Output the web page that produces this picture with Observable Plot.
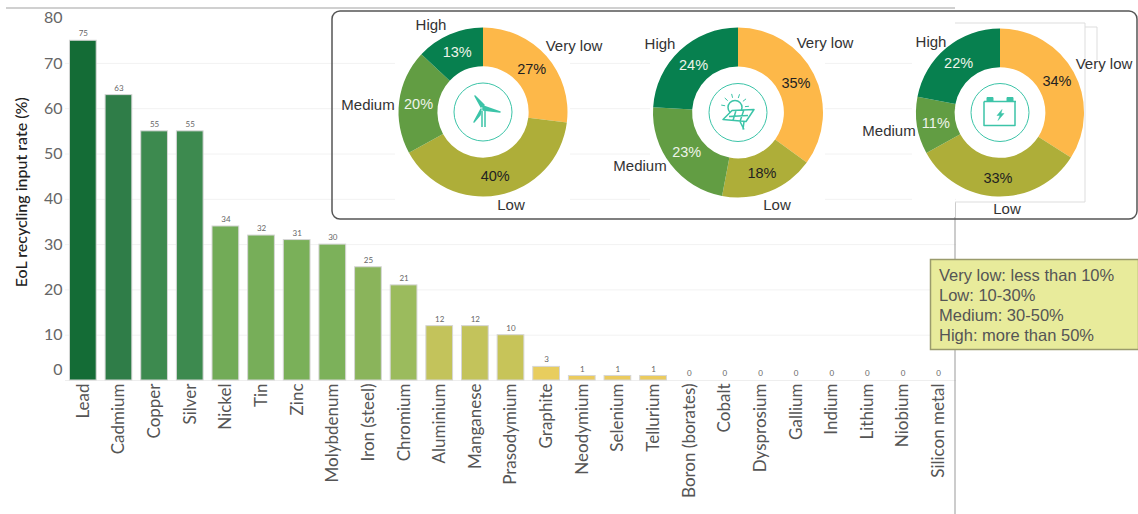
<!DOCTYPE html>
<html><head><meta charset="utf-8">
<style>html,body{margin:0;padding:0;background:#fff}svg{display:block}</style>
<script src="https://cdn.jsdelivr.net/npm/d3@7"></script>
<script src="https://cdn.jsdelivr.net/npm/@observablehq/plot@0.6"></script>
</head><body>
<script>
const materials = ["Lead","Cadmium","Copper","Silver","Nickel","Tin","Zinc","Molybdenum","Iron (steel)","Chromium","Aluminium","Manganese","Prasodymium","Graphite","Neodymium","Selenium","Tellurium","Boron (borates)","Cobalt","Dysprosium","Gallium","Indium","Lithium","Niobium","Silicon metal"];
const rates = [75,63,55,55,34,32,31,30,25,21,12,12,10,3,1,1,1,0,0,0,0,0,0,0,0];
const colorStops = [0,1,3,10,12,21,25,30,34,55,63,75];
const colorRange = ["#ebcb5e","#ebcb5e","#e8cd5e","#c7c459","#c3c35b","#9bbb5d","#8ab45b","#7cb15a","#72ab57","#3d8a4f","#2f7d48","#146c36"];
const yTicks = [10,20,30,40,50,60,70,80];
const gridTicks = [10,20,30,40,50,60,70];
const levels = ["Very low","Low","Medium","High"];
const levelColors = ["#fdb849","#aeae39","#629d43","#07804f"];
const wind = [27,40,20,13];
const solar = [35,18,23,24];
const battery = [34,33,11,22];
const legendLines = ["Very low: less than 10%","Low: 10-30%","Medium: 30-50%","High: more than 50%"];

const table = materials.map((m,i)=>({material:m,rate:rates[i]}));
const levelScale = Plot.scale({color:{domain:levels,range:levelColors}});
const TEAL = "#3cc4a8";

// layout of the inset (nudges place each outer label as in the figure)
const donuts = [
  {values:wind, cx:483, cy:112, r:84.5, icon:"wind",
   labels:[[574,46],[511,205],[368,105],[431,25]]},
  {values:solar, cx:738, cy:112.5, r:85, icon:"solar",
   labels:[[825,43],[777,205],[640,166],[660,44]]},
  {values:battery, cx:1000, cy:112.5, r:84, icon:"battery",
   labels:[[1104,64],[1007,209],[889,131],[931,42]]}
];

function overlay(){
  const g = d3.create("svg:g");
  // background lines / patches
  g.append("line").attr("x1",6).attr("x2",955).attr("y1",8).attr("y2",8).attr("stroke","#d0d0d0").attr("stroke-width",2);
  g.append("line").attr("x1",955).attr("x2",955).attr("y1",202).attr("y2",514).attr("stroke","#999").attr("stroke-width",1);
  for (const [x,w] of [[395,175],[650,175],[912,43]]) {
    g.append("rect").attr("x",x).attr("y",13).attr("width",w).attr("height",204).attr("fill","#fff");
  }
  g.append("path").attr("d","M955,23H1085V27H1097V60M1085,27V202H955").attr("fill","none").attr("stroke","#ddd").attr("stroke-width",1);
  g.append("rect").attr("x",332).attr("y",11).attr("width",805).attr("height",208).attr("rx",8)
    .attr("fill","none").attr("stroke","#555").attr("stroke-width",1.5);
  const pie = d3.pie().sort(null);
  for (const d of donuts) {
    const group = g.append("g").attr("transform",`translate(${d.cx},${d.cy})`);
    const ri = d.r*0.54;
    const arc = d3.arc().innerRadius(ri).outerRadius(d.r);
    const mid = d3.arc().innerRadius(65).outerRadius(65);
    pie(d.values).forEach((a,i)=>{
      group.append("path").attr("d",arc(a)).attr("fill",levelScale.apply(levels[i]));
    });
    pie(d.values).forEach((a,i)=>{
      const [x,y] = mid.centroid(a);
      group.append("text").attr("x",x).attr("y",y).attr("dy","0.35em").attr("text-anchor","middle")
        .attr("font-family","Liberation Sans").attr("font-size",14.5)
        .attr("fill", i>=2 ? "#eef4ea" : "#222").text(d.values[i]+"%");
      const [lx,ly] = d.labels[i];
      g.append("text").attr("x",lx).attr("y",ly).attr("dy","0.35em").attr("text-anchor","middle")
        .attr("font-family","Liberation Sans").attr("font-size",15).attr("fill","#333").text(levels[i]);
    });
    group.append("circle").attr("r",29).attr("fill","none").attr("stroke",TEAL).attr("stroke-width",1);
    const ic = group.append("g").attr("stroke",TEAL).attr("fill","none").attr("stroke-width",1.5).attr("stroke-linejoin","round");
    if (d.icon==="wind") {
      ic.append("path").attr("d","M-2,-5L-8,-16L1,-7Z M0,-2L17,0L0,-6Z M-2,-3L-9,10L-3,3Z").attr("fill",TEAL);
      ic.append("path").attr("d","M-1,-1L-1,15M2,-1L2,15").attr("stroke-width",1.5);
    } else if (d.icon==="solar") {
      ic.append("circle").attr("cx",-3).attr("cy",-5).attr("r",7);
      for (const t of d3.range(-170,30,33)) {
        const c=Math.cos(t*Math.PI/180), s=Math.sin(t*Math.PI/180);
        ic.append("line").attr("x1",-3+10*c).attr("y1",-5+10*s).attr("x2",-3+14*c).attr("y2",-5+14*s).attr("stroke-width",1);
      }
      ic.append("path").attr("d","M-15,7L-6,-2L16,-3L8,9Z M-9,4L10,3 M-2,-2L-5,8 M6,-3L2,9").attr("fill","#fff");
      ic.append("path").attr("d","M2,9L6,17M6,9L5,17");
    } else {
      ic.append("path").attr("d","M-16,-11H16M-16,-11V13H15V-11").attr("stroke-width",1.5);
      ic.append("path").attr("d","M-13,-11V-15H-7V-11M7,-11V-15H13V-11").attr("fill",TEAL).attr("stroke-width",1);
      ic.append("path").attr("d","M2,-3L-3,3H0L-2,8L4,1H1Z").attr("fill",TEAL).attr("stroke-width",.5);
    }
  }
  // scale legend
  g.append("rect").attr("x",930.5).attr("y",259.5).attr("width",208).attr("height",90).attr("fill","#e8eb9b").attr("stroke","#9a9b6c").attr("stroke-width",1.5);
  legendLines.forEach((t,i)=>{
    g.append("text").attr("x",939).attr("y",275+20*i).attr("dy","0.35em").attr("text-anchor","start")
      .attr("font-family","Liberation Sans").attr("font-size",16.5).attr("fill","#555").text(t);
  });
  return g.node();
}

const chart = Plot.plot({
  width:1138, height:514,
  marginLeft:65, marginRight:182, marginTop:17.6, marginBottom:134,
  style:{background:"#fff",fontFamily:"Lato"},
  x:{domain:materials,paddingInner:0.25,paddingOuter:0.125,align:0.5,round:false,label:null},
  y:{domain:[0,80],label:null},
  color:{type:"linear",domain:colorStops,range:colorRange},
  marks:[
    Plot.ruleY(gridTicks,{stroke:"#f2f2f2"}),
    Plot.ruleY([0],{stroke:"#eeeeee"}),
    Plot.barY(table,{x:"material",y:"rate",fill:"rate",stroke:"#d6d6d6",strokeWidth:1}),
    Plot.text(table,{x:"material",y:"rate",text:d=>String(d.rate),dy:-7,fontSize:8,fill:"#666"}),
    Plot.axisY({ticks:yTicks,anchor:"left",tickSize:0,tickPadding:3,fontSize:16,fill:"#666",label:null}),
    Plot.axisY({ticks:[0],anchor:"left",tickSize:0,tickPadding:3,fontSize:16,fill:"#666",label:null,dy:-11}),
    Plot.axisX({anchor:"bottom",tickRotate:-90,tickSize:0,tickPadding:3,fontSize:17,fill:"#555",label:null}),
    Plot.text(["EoL recycling input rate (%)"],{frameAnchor:"left",textAnchor:"middle",dx:-44,dy:-7,rotate:-90,fontSize:16,fontWeight:500,fill:"#222"}),
    overlay
  ]
});
document.body.appendChild(chart);
</script>
</body></html>
